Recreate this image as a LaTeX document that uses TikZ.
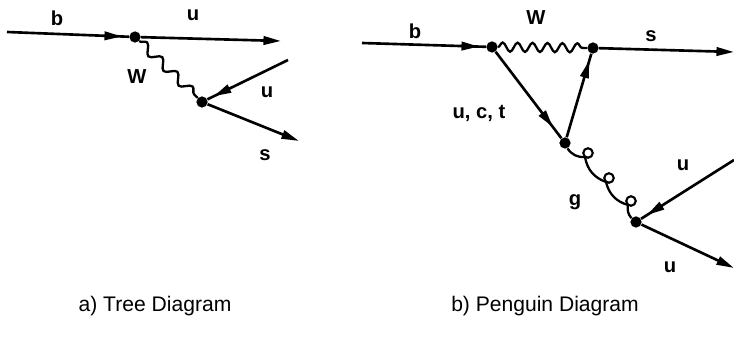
\documentclass[tikz,border=0pt]{standalone}
\usepackage{fontspec}
\setmainfont{Liberation Sans}
\usetikzlibrary{arrows.meta,decorations.pathmorphing,decorations.markings}

\begin{document}
\begin{tikzpicture}[
  x=0.02cm,y=-0.02cm,
  >={Triangle[length=10pt,width=4.8pt]},
  vtx/.style={circle, fill=black, inner sep=0pt, minimum size=6.4pt},
  lbl/.style={font=\fontsize{11.5}{13}\selectfont\bfseries, inner sep=1pt},
  caption/.style={font=\fontsize{12}{14}\selectfont, inner sep=1pt},
  quark/.style={line width=1.5pt},
  outq/.style={quark, ->},
  inq/.style={quark, postaction={decorate},
              decoration={markings, mark=at position #1 with {\arrow{Triangle[length=10pt,width=4.8pt]}}}},
  inq/.default=-4pt,
  boson/.style={line width=1.3pt, decorate,
                decoration={snake, amplitude=2.6pt, segment length=#1}},
  gluon/.style={line width=1.3pt},
  gloop/.style={circle, draw, line width=1.2pt, inner sep=0pt, minimum size=5.4pt}
]
  \useasboundingbox (0,0) rectangle (734,350);

  % a) tree
  \coordinate (bin) at (7,32);
  \node[vtx] (v1) at (135,37) {};
  \coordinate (uout) at (281,41);
  \node[vtx] (v2) at (202,102) {};
  \coordinate (uin) at (288,60);
  \coordinate (sout) at (299,141);

  \draw[inq] (bin) -- (v1);
  \draw[outq] (v1) -- (uout);
  \draw[boson=12pt] (v1) -- (v2);
  \draw[inq] (uin) -- (v2);
  \draw[outq] (v2) -- (sout);

  \node[lbl] (lb1) at (57,18) {b};
  \node[lbl] (lu1) at (193,15) {u};
  \node[lbl] (lw1) at (137,77) {W};
  \node[lbl] (lu2) at (267,92) {u};
  \node[lbl] (ls1) at (265,155) {s};

  % b) penguin
  \coordinate (bin2) at (362,43);
  \node[vtx] (v3) at (492,47) {};
  \node[vtx] (v4) at (593,48) {};
  \coordinate (sout2) at (734,52);
  \node[vtx] (v5) at (565,143) {};
  \node[vtx] (v6) at (636,222) {};
  \coordinate (uin2) at (734,160);
  \coordinate (uout2) at (734,268);

  \draw[inq] (bin2) -- (v3);
  \draw[boson=8.5pt] (v3) -- (v4);
  \draw[outq] (v4) -- (sout2);
  \draw[inq=-8pt] (v3) -- (v5);
  \draw[inq] (v5) -- (v4);
  \draw[inq] (uin2) -- (v6);
  \draw[outq] (v6) -- (uout2);

  % gluon with three loops
  \node[gloop] (o1) at (588,153) {};
  \node[gloop] (o2) at (609,178) {};
  \node[gloop] (o3) at (631,201) {};
  \coordinate (g1) at (585,157);
  \coordinate (g2) at (606,182);
  \coordinate (g3) at (628,205);
  \draw[gluon] (v5) to[bend right=30] (g1) to[bend right=30] (g2)
    to[bend right=30] (g3) to[bend right=25] (v6);

  \node[lbl] (lb2) at (415,31) {b};
  \node[lbl] (lw2) at (536,18) {W};
  \node[lbl] (ls2) at (651,36) {s};
  \node[lbl] (lq) at (479,113) {u, c, t};
  \node[lbl] (lg) at (575,202) {g};
  \node[lbl] (lu3) at (683,165) {u};
  \node[lbl] (lu4) at (670,267) {u};

  % captions
  \node[caption] (capa) at (155,306) {a) Tree Diagram};
  \node[caption] (capb) at (545,306) {b) Penguin Diagram};
\end{tikzpicture}
\end{document}
